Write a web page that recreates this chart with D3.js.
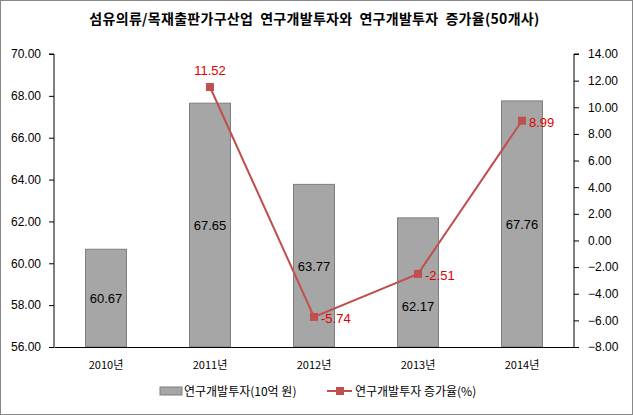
<!DOCTYPE html>
<html><head><meta charset="utf-8">
<script src="https://cdn.jsdelivr.net/npm/d3@7"></script>
<style>body{margin:0;background:#fff}svg{display:block}</style>
</head><body>
<script>
const categories = ["2010년","2011년","2012년","2013년","2014년"];
const investment = [60.67, 67.65, 63.77, 62.17, 67.76];
const growthYears = ["2011년","2012년","2013년","2014년"];
const growth = [11.52, -5.74, -2.51, 8.99];
const leftTicks = [56,58,60,62,64,66,68,70];
const rightTicks = [-8,-6,-4,-2,0,2,4,6,8,10,12,14];
const title = "섬유의류/목재출판가구산업  연구개발투자와  연구개발투자  증가율(50개사)";
const legendLabels = ["연구개발투자(10억 원)", "연구개발투자 증가율(%)"];

const W=633,H=415;
const svg=d3.select("body").append("svg").attr("width",W).attr("height",H);
const font="'Liberation Sans', Arial, sans-serif";
const kfont="'Noto Sans CJK KR', sans-serif";
svg.append("rect").attr("x",0.5).attr("y",0.5).attr("width",W-1).attr("height",H-1).attr("fill","#fff").attr("stroke","#888");

const L=54,R=574,T=54,B=347;
const x=d3.scaleBand().domain(categories).range([L,R]);
const yL=d3.scaleLinear().domain([56,70]).range([B,T]);
const yR=d3.scaleLinear().domain([-8,14]).range([B,T]);

svg.append("text").attr("x",W/2-2).attr("y",24).attr("text-anchor","middle").style("white-space","pre")
  .attr("font-family",kfont).attr("font-weight","bold").attr("font-size",14).attr("letter-spacing",0.3).text(title);

const bw=41;
svg.selectAll("rect.bar").data(investment).join("rect").attr("class","bar")
  .attr("x",(d,i)=>x(categories[i])+x.bandwidth()/2-bw/2).attr("width",bw)
  .attr("y",d=>yL(d)).attr("height",d=>B-yL(d))
  .attr("fill","#a6a6a6").attr("stroke","#7f7f7f").attr("stroke-width",1);

// label nudges (px) to avoid overlap with line labels, as in the reference
const labelNudge = i => i===3 ? 24 : 0;
svg.selectAll("text.bl").data(investment).join("text").attr("class","bl")
  .attr("x",(d,i)=>x(categories[i])+x.bandwidth()/2).attr("y",(d,i)=>(yL(d)+B)/2+5+labelNudge(i))
  .attr("text-anchor","middle").attr("font-family",font).attr("font-size",13).attr("fill","#000")
  .text(d=>d.toFixed(2));

const axL=svg.append("g").attr("transform",`translate(${L},0)`)
  .call(d3.axisLeft(yL).tickValues(leftTicks).tickFormat(d3.format(".2f")).tickSize(5).tickPadding(8));
const axR=svg.append("g").attr("transform",`translate(${R},0)`)
  .call(d3.axisRight(yR).tickValues(rightTicks).tickFormat(d3.format(".2f")).tickSize(5).tickPadding(9));
const axB=svg.append("g").attr("transform",`translate(0,${B})`)
  .call(d3.axisBottom(x).tickSize(0).tickPadding(14));
[axL,axR,axB].forEach(g=>{
  g.select(".domain").attr("stroke","#000");
  g.selectAll("line").attr("stroke","#000");
  g.selectAll("text").attr("font-family",font).attr("font-size",12).attr("fill","#000");
});
axL.select(".domain").attr("d",`M-5,${T}H0V${B}`);
axR.select(".domain").attr("d",`M5,${T}H0V${B}`);
axB.selectAll("text").attr("font-family",kfont).attr("font-size",11);

const cx=d=>x(d)+x.bandwidth()/2;
const line=d3.line().x((d,i)=>cx(growthYears[i])).y(d=>yR(d));
svg.append("path").datum(growth).attr("d",line).attr("fill","none").attr("stroke","#c0504d").attr("stroke-width",2);
svg.selectAll("rect.mk").data(growth).join("rect").attr("class","mk")
  .attr("x",(d,i)=>cx(growthYears[i])-4).attr("y",d=>yR(d)-4).attr("width",8).attr("height",8)
  .attr("fill","#c0504d");
svg.selectAll("text.gl").data(growth).join("text").attr("class","gl")
  .attr("x",(d,i)=>i===0?cx(growthYears[i]):cx(growthYears[i])+7)
  .attr("y",(d,i)=>i===0?yR(d)-12:yR(d)+6)
  .attr("text-anchor",(d,i)=>i===0?"middle":"start")
  .attr("font-family",font).attr("font-size",13).attr("fill","#e00000")
  .text(d=>d.toFixed(2));

const lg=svg.append("g");
lg.append("rect").attr("x",160).attr("y",387).attr("width",22).attr("height",8).attr("fill","#a6a6a6").attr("stroke","#7f7f7f");
lg.append("text").attr("x",184).attr("y",396).attr("font-family",kfont).attr("font-size",12).text(legendLabels[0]);
lg.append("line").attr("x1",327).attr("x2",352).attr("y1",391).attr("y2",391).attr("stroke","#c0504d").attr("stroke-width",2);
lg.append("rect").attr("x",336).attr("y",387).attr("width",8).attr("height",8).attr("fill","#c0504d");
lg.append("text").attr("x",355).attr("y",396).attr("font-family",kfont).attr("font-size",12).text(legendLabels[1]);
</script>
</body></html>
